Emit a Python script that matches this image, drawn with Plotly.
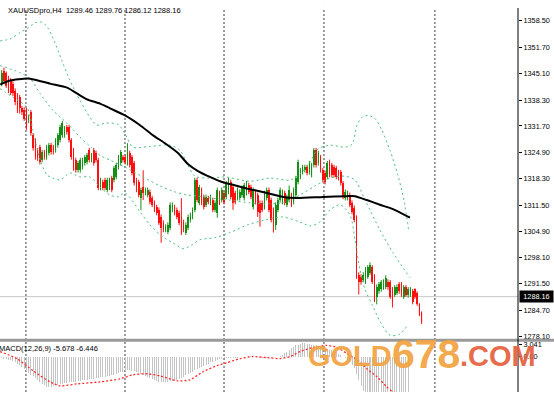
import plotly.graph_objects as go

# ---------------- data ----------------
open_ = [
1342.5,1345.8,1345.1,1343.8,1343.3,1342.5,1340.7,1339.5,1339.0,1336.2,
1335.9,1335.7,1333.1,1335.2,1329.3,1328.1,1325.5,1326.3,1323.0,1325.0,
1323.7,1324.8,1326.8,1326.3,1325.5,1326.8,1328.1,1329.3,1329.3,1331.4,
1331.4,1328.1,1325.5,1323.0,1320.4,1320.4,1321.2,1322.2,1322.5,1325.5,
1323.0,1325.5,1324.8,1323.0,1315.9,1317.4,1317.9,1315.4,1315.9,1318.4,
1317.9,1318.7,1321.2,1322.2,1323.7,1323.7,1322.2,1324.8,1323.7,1322.2,
1317.9,1317.4,1313.3,1316.1,1314.6,1314.1,1314.9,1313.3,1312.1,1311.0,
1310.3,1308.5,1307.0,1305.2,1304.7,1305.7,1310.3,1311.0,1310.3,1309.5,
1308.5,1307.2,1304.5,1305.7,1307.7,1308.5,1310.3,1317.9,1312.1,1315.4,
1313.6,1311.6,1313.3,1312.1,1312.8,1310.3,1309.5,1314.6,1312.8,1314.6,
1313.6,1314.9,1317.4,1316.1,1314.6,1313.3,1313.3,1314.1,1313.3,1314.6,
1316.6,1316.1,1311.0,1314.9,1314.1,1312.1,1312.1,1311.0,1313.3,1315.4,
1312.8,1310.3,1306.5,1310.3,1312.8,1312.3,1314.6,1311.6,1312.8,1314.1,
1312.3,1314.1,1317.4,1318.7,1319.9,1320.4,1321.2,1319.9,1319.2,1321.7,
1325.5,1322.2,1323.7,1320.4,1319.7,1318.7,1322.5,1321.7,1321.2,1320.9,
1319.9,1319.9,1317.1,1313.3,1313.3,1314.1,1312.1,1310.8,1308.3,1293.8,
1293.3,1292.5,1292.0,1293.3,1294.3,1295.6,1293.3,1288.2,1289.5,1290.0,
1290.5,1290.7,1292.0,1291.8,1290.0,1288.7,1289.2,1291.3,1291.3,1288.2,
1290.5,1288.5,1288.7,1289.5,1290.0,1289.2,1286.2,1284.1]

close = [
1345.3,1343.3,1342.0,1340.7,1340.2,1340.0,1337.7,1335.7,1336.2,1335.2,
1333.6,1331.4,1333.9,1329.8,1326.0,1323.7,1323.5,1322.5,1325.0,1323.7,
1326.3,1326.8,1325.0,1325.0,1328.1,1329.3,1331.4,1332.4,1331.1,1330.1,
1328.1,1323.7,1320.9,1320.4,1322.2,1323.0,1323.0,1323.7,1324.2,1323.0,
1324.2,1322.2,1323.0,1315.9,1317.9,1315.9,1315.9,1317.9,1317.9,1315.4,
1320.9,1321.7,1323.7,1325.0,1323.0,1322.5,1324.8,1321.7,1319.7,1317.1,
1315.4,1314.1,1315.4,1314.6,1315.4,1315.4,1312.3,1311.6,1310.3,1309.5,
1307.0,1305.7,1305.2,1306.0,1306.5,1311.6,1311.6,1309.5,1308.5,1307.0,
1304.5,1305.2,1306.5,1308.5,1309.0,1310.3,1317.9,1312.8,1316.1,1312.1,
1311.0,1313.6,1312.3,1313.6,1310.3,1312.1,1315.4,1312.1,1315.4,1312.3,
1317.1,1317.9,1313.6,1312.1,1312.3,1315.4,1314.9,1315.9,1316.6,1317.1,
1314.9,1313.6,1315.4,1312.3,1309.8,1309.5,1310.3,1314.6,1315.4,1310.3,
1307.7,1307.0,1311.6,1312.8,1315.4,1314.9,1312.1,1313.6,1315.4,1311.6,
1315.4,1318.4,1322.5,1320.4,1321.2,1321.2,1319.7,1322.2,1321.7,1325.5,
1321.7,1324.8,1320.4,1317.9,1317.4,1322.2,1319.2,1319.2,1319.2,1318.7,
1318.4,1317.1,1313.6,1314.9,1314.6,1311.6,1309.8,1307.7,1293.3,1292.0,
1291.8,1293.8,1295.1,1295.6,1296.3,1292.0,1287.4,1290.7,1291.3,1291.8,
1292.0,1293.0,1290.5,1288.2,1286.9,1290.5,1290.7,1289.5,1288.7,1290.5,
1288.7,1290.0,1290.0,1286.9,1288.0,1286.2,1283.6,1281.6]

high = [
1346.0,1346.6,1345.6,1344.5,1343.9,1343.1,1341.3,1340.1,1339.6,1336.8,
1336.5,1336.3,1334.6,1335.8,1329.9,1328.6,1326.1,1326.9,1325.6,1325.6,
1326.9,1327.4,1327.4,1326.9,1328.6,1329.9,1332.0,1333.0,1331.7,1332.0,
1332.0,1328.6,1326.1,1323.6,1322.8,1323.6,1323.6,1324.3,1324.8,1326.1,
1324.8,1326.1,1325.4,1323.6,1318.5,1318.0,1318.5,1318.5,1318.5,1319.0,
1321.5,1322.3,1324.3,1325.6,1324.3,1324.3,1327.3,1325.4,1324.3,1322.8,
1318.5,1318.0,1316.0,1320.4,1316.0,1316.0,1315.5,1313.9,1312.7,1311.6,
1310.9,1309.1,1307.6,1306.6,1307.1,1312.2,1312.2,1311.6,1310.9,1310.1,
1313.3,1307.8,1307.1,1309.1,1309.6,1310.9,1318.5,1318.5,1316.7,1316.0,
1314.2,1314.2,1313.9,1314.2,1313.4,1312.7,1316.0,1315.2,1316.0,1315.2,
1317.7,1318.5,1318.0,1316.7,1315.2,1316.0,1315.5,1316.5,1317.2,1317.7,
1317.2,1316.7,1316.0,1315.5,1314.7,1312.7,1312.7,1315.2,1316.0,1316.0,
1313.4,1310.9,1312.2,1313.4,1316.0,1315.5,1315.2,1314.2,1316.5,1314.7,
1316.0,1319.0,1323.1,1321.0,1321.8,1321.8,1321.8,1322.8,1322.3,1326.1,
1326.1,1325.4,1324.3,1321.0,1320.3,1322.8,1323.1,1322.3,1321.8,1321.5,
1320.5,1320.5,1317.7,1315.5,1315.2,1314.7,1312.7,1311.4,1308.9,1294.4,
1293.9,1294.4,1295.7,1296.2,1296.9,1296.2,1293.9,1291.3,1291.9,1292.4,
1292.6,1293.6,1292.6,1292.4,1290.6,1291.1,1291.3,1291.9,1291.9,1291.1,
1291.1,1290.6,1290.6,1290.1,1290.3,1289.5,1286.5,1284.4]

low = [
1341.8,1342.7,1341.4,1340.1,1339.6,1339.3,1337.0,1335.0,1334.9,1334.5,
1333.0,1330.7,1332.4,1329.2,1325.4,1323.1,1322.8,1321.9,1322.4,1323.1,
1323.1,1324.2,1324.4,1324.4,1324.9,1326.2,1327.5,1328.7,1328.7,1329.5,
1327.5,1323.1,1320.3,1319.8,1319.8,1319.8,1320.6,1321.6,1321.9,1322.4,
1322.4,1321.6,1322.4,1315.3,1315.3,1315.3,1315.3,1314.8,1315.3,1314.8,
1317.3,1318.1,1320.6,1321.6,1322.4,1321.9,1321.6,1321.1,1319.1,1316.5,
1314.8,1313.5,1310.3,1312.8,1314.0,1313.5,1311.7,1311.0,1309.7,1308.9,
1306.4,1301.9,1304.6,1304.6,1304.1,1305.1,1309.7,1308.9,1307.9,1306.4,
1303.9,1304.6,1303.9,1305.1,1307.1,1307.9,1309.7,1312.2,1311.5,1311.5,
1310.4,1311.0,1311.7,1311.5,1309.7,1309.7,1308.3,1311.5,1312.2,1311.7,
1313.0,1314.3,1313.0,1310.3,1311.7,1312.7,1312.7,1313.5,1312.7,1314.0,
1314.3,1313.0,1310.4,1311.7,1308.5,1306.0,1309.7,1310.4,1312.7,1309.7,
1307.1,1304.5,1305.2,1309.7,1312.2,1311.7,1311.5,1311.0,1312.2,1311.0,
1311.7,1313.5,1316.8,1318.1,1319.3,1319.8,1319.1,1319.3,1318.6,1321.1,
1321.1,1321.6,1319.8,1317.3,1316.8,1318.1,1318.6,1318.6,1318.6,1318.1,
1317.8,1316.5,1313.0,1312.7,1312.7,1311.0,1309.2,1307.1,1292.7,1288.7,
1291.2,1291.9,1291.4,1292.7,1293.7,1291.4,1286.8,1286.2,1288.9,1289.4,
1289.9,1290.1,1289.9,1287.6,1285.4,1288.1,1288.6,1288.9,1288.1,1287.6,
1288.1,1287.9,1288.1,1286.2,1287.6,1285.8,1283.2,1281.2]

# moving average (black line), at bar positions
ma_x = [-0.7, 3.7, 11.3, 14.8, 21.5, 29.1, 33.5, 38.0, 43.8, 48.2, 54.9, 61.6, 67.4, 72.7,
        78.5, 82.9, 87.4, 92.7, 97.2, 108.3, 118.1, 125.2, 131.5, 143.1, 153.7, 157.3,
        162.6, 168.4, 174.2, 181.8]
ma_v = [1342.3, 1343.3, 1343.8, 1343.5, 1342.5, 1341.5, 1340.0, 1338.5, 1337.4, 1336.2,
        1334.4, 1331.9, 1329.3, 1327.3, 1324.8, 1322.0, 1320.2, 1318.7, 1317.6, 1315.9,
        1314.6, 1313.6, 1313.3, 1313.6, 1313.8, 1313.8, 1312.8, 1311.6, 1310.5, 1308.3]

# Bollinger bands (dotted green)
bb_up_x = [-0.7, 3.7, 8.1, 11.7, 14.8, 17.9, 20.6, 23.7, 26.8, 30.4, 34.9, 39.3, 42.4, 46.0,
           51.8, 55.3, 58.4, 66.0, 74.9, 79.4, 82.9, 86.0, 92.7, 99.4, 110.5, 119.5, 128.4,
           132.8, 137.3, 140.8, 146.2, 152.8, 156.0, 158.2, 160.4, 163.1, 166.2, 169.3,
           172.9, 176.4, 179.1, 181.3]
bb_up_v = [1353.4, 1353.9, 1355.5, 1356.7, 1358.0, 1358.2, 1356.7, 1352.9, 1348.4, 1343.3,
           1338.2, 1333.9, 1331.9, 1332.4, 1332.1, 1329.3, 1326.3, 1326.5, 1326.8, 1325.5,
           1321.7, 1318.9, 1318.4, 1318.7, 1317.6, 1318.4, 1317.9, 1319.4, 1322.5, 1325.8,
           1326.8, 1326.3, 1327.0, 1331.9, 1333.9, 1334.4, 1333.6, 1330.6, 1325.5, 1319.2,
           1312.8, 1304.7]
bb_mid_x = [-0.7, 8.1, 12.6, 17.1, 22.8, 29.1, 34.9, 39.3, 43.8, 48.2, 54.9, 62.9, 70.5,
            77.1, 82.5, 87.4, 93.6, 101.6, 110.5, 119.5, 126.1, 132.8, 139.5, 146.2, 152.8,
            157.3, 161.8, 168.4, 174.2, 181.8]
bb_mid_v = [1347.1, 1345.3, 1343.8, 1340.0, 1335.7, 1332.4, 1328.8, 1326.5, 1324.2, 1323.0,
            1321.2, 1318.7, 1316.4, 1314.9, 1314.1, 1313.8, 1313.3, 1312.8, 1312.1, 1311.8,
            1312.3, 1314.1, 1316.4, 1318.4, 1318.9, 1317.9, 1312.8, 1305.2, 1299.4, 1293.0]
bb_low_x = [-0.7, 5.0, 11.3, 13.9, 17.1, 20.2, 22.8, 26.0, 30.4, 34.9, 39.3, 43.8, 48.2,
            51.8, 54.9, 61.6, 66.0, 71.8, 76.2, 80.8, 84.7, 88.3, 95.0, 101.6, 109.6, 117.2,
            124.8, 132.8, 137.3, 141.7, 146.2, 150.6, 155.1, 157.3, 159.5, 161.8, 164.9,
            168.4, 172.9, 177.3, 180.9]
bb_low_v = [1341.2, 1339.0, 1336.4, 1330.6, 1323.0, 1319.2, 1318.4, 1317.9, 1319.7, 1318.7,
            1318.7, 1316.1, 1314.1, 1313.6, 1314.6, 1309.8, 1306.5, 1303.4, 1301.9, 1300.4,
            1301.4, 1302.7, 1303.2, 1304.5, 1306.5, 1307.7, 1308.5, 1307.2, 1306.2, 1307.2,
            1310.3, 1311.6, 1309.0, 1302.7, 1295.1, 1290.0, 1286.2, 1281.9, 1278.3, 1278.6,
            1281.1]

# MACD histogram (one value per bar, indicator stops before the last bars)
macd_hist = [
-0.3,-0.5,-0.6,-0.8,-1.0,-1.2,-1.5,-1.9,-2.3,-2.7,
-3.2,-3.7,-4.2,-4.7,-5.1,-5.6,-6.1,-6.6,-7.1,-7.5,
-7.8,-7.9,-7.9,-7.7,-7.5,-7.3,-7.1,-7.0,-6.9,-6.8,
-6.7,-6.6,-6.6,-6.5,-6.4,-6.3,-6.2,-6.1,-6.0,-5.9,
-5.8,-5.7,-5.6,-5.5,-5.4,-5.3,-5.2,-5.1,-5.0,-4.9,
-4.7,-4.5,-4.3,-4.1,-3.9,-3.7,-3.6,-3.6,-3.7,-3.8,
-3.9,-4.1,-4.4,-4.7,-5.0,-5.3,-5.6,-5.9,-6.2,-6.4,
-6.5,-6.6,-6.6,-6.6,-6.5,-6.4,-6.3,-6.2,-6.0,-5.8,
-5.5,-5.2,-4.9,-4.5,-4.2,-3.9,-3.6,-3.3,-3.0,-2.7,
-2.4,-2.1,-1.8,-1.5,-1.3,-1.1,-0.9,-0.7,-0.5,-0.4,
-0.3,-0.3,-0.4,-0.4,-0.3,-0.3,-0.2,-0.2,-0.1,0.0,
0.1,0.1,0.0,-0.1,-0.2,-0.3,-0.4,-0.4,-0.4,-0.3,
-0.3,-0.2,-0.1,0.0,0.2,0.5,0.9,1.3,1.8,2.2,
2.6,2.9,3.1,3.3,3.4,3.4,3.3,3.2,3.1,3.0,
2.9,2.8,2.6,2.4,2.2,2.0,1.8,1.6,1.4,1.1,
0.8,0.4,0.0,-0.4,-0.9,-1.5,-2.2,-3.0,-4.5,-6.2,
-7.6,-8.9,-10.0,-11.0,-11.9,-12.6,-13.2,-13.7,-14.2,-14.6,
-14.9,-15.2,-15.4,-15.6,-15.7,-15.8,-15.9,-16.0,-16.0,-16.1,
-16.1,-16.2]

# MACD signal (red dotted)
sig_x = [-0.7, 6.8, 13.9, 21.5, 26.0, 33.5, 43.8, 52.7, 58.5, 64.7, 70.5, 78.1, 83.8, 89.6,
         95.9, 100.3, 106.1, 111.9, 118.1, 123.9, 128.4, 132.8, 138.6, 144.8, 149.3, 153.7,
         158.2, 162.6, 167.1, 171.5, 174.2, 181.8]
sig_v = [1.31, -0.52, -3.67, -6.56, -7.61, -7.09, -6.56, -5.77, -4.72, -4.46, -4.99, -6.30,
         -6.04, -3.94, -2.36, -1.57, -0.52, 0.0, -0.26, -0.52, 0.0, 1.31, 2.36, 2.89, 2.36,
         0.79, -0.79, -3.15, -5.25, -7.87, -9.19, -12.3]

price_ticks = [1358.50, 1351.70, 1345.10, 1338.30, 1331.70, 1324.90, 1318.30, 1311.50,
               1304.90, 1298.10, 1291.50, 1284.70, 1278.10]
macd_ticks = [3.041, 0.0]
macd_ticktext = ["3.041", "0.00"]
separator_bars = [10.8, 54.9, 99.0, 143.5, 192.9]
last_price = 1288.16
header_text = "XAUUSDpro,H4  1289.46 1289.76 1286.12 1288.16"
macd_text = "MACD(12,26,9) -5.678 -6.446"

# ---------------- figure ----------------
W, H = 554, 393
n = len(close)
assert len(open_) == n and len(high) == n and len(low) == n, (len(open_), len(high), len(low), n)
bars = list(range(n))

UP, DN = "#168f16", "#ff1010"
BB = "#4cbf7e"
FONT = "Liberation Sans, Arial, sans-serif"

fig = go.Figure()

# wicks
for col, cond in ((UP, lambda o, c: c >= o), (DN, lambda o, c: c < o)):
    wx, wy = [], []
    for i in bars:
        if cond(open_[i], close[i]):
            wx += [i, i, None]
            wy += [low[i], high[i], None]
    fig.add_trace(go.Scatter(x=wx, y=wy, mode="lines", line=dict(color=col, width=1),
                             hoverinfo="skip", xaxis="x", yaxis="y"))

# bodies
for col, cond in ((UP, lambda o, c: c >= o), (DN, lambda o, c: c < o)):
    idx = [i for i in bars if cond(open_[i], close[i])]
    fig.add_trace(go.Bar(x=idx,
                         base=[min(open_[i], close[i]) for i in idx],
                         y=[max(abs(close[i] - open_[i]), 0.3) for i in idx],
                         width=0.75, marker=dict(color=col, line=dict(width=0)),
                         xaxis="x", yaxis="y", hoverinfo="skip"))

# Bollinger bands
for bx, bv in ((bb_up_x, bb_up_v), (bb_mid_x, bb_mid_v), (bb_low_x, bb_low_v)):
    fig.add_trace(go.Scatter(x=bx, y=bv, mode="lines",
                             line=dict(color=BB, width=1, dash="2px,3px", shape="spline", smoothing=0.8),
                             xaxis="x", yaxis="y", hoverinfo="skip"))

# moving average
fig.add_trace(go.Scatter(x=ma_x, y=ma_v, mode="lines",
                         line=dict(color="black", width=2, shape="spline", smoothing=0.6),
                         xaxis="x", yaxis="y", hoverinfo="skip"))

# MACD
fig.add_trace(go.Bar(x=list(range(len(macd_hist))), y=macd_hist, width=0.45,
                     marker=dict(color="#c4c4c4", line=dict(width=0)),
                     xaxis="x2", yaxis="y2", hoverinfo="skip"))
fig.add_trace(go.Scatter(x=sig_x, y=sig_v, mode="lines",
                         line=dict(color="#ff2a2a", width=1.3, dash="2px,2px", shape="spline", smoothing=0.6),
                         xaxis="x2", yaxis="y2", hoverinfo="skip"))

# axis geometry (main panel: px 0..340, MACD panel: px 342..393)
px_per_bar = 2.2457
x_lo = -1.7 / px_per_bar
x_hi = x_lo + 518 / px_per_bar
main_dom = [(H - 340) / H, 1.0]
macd_dom = [0.0, (H - 342) / H]

axis_common = dict(showgrid=False, zeroline=False, showline=False)
fig.update_layout(
    width=W, height=H, margin=dict(l=0, r=36, t=0, b=0),
    paper_bgcolor="white", plot_bgcolor="white", showlegend=False,
    barmode="overlay", bargap=0, hovermode=False,
    xaxis=dict(domain=[0, 1], range=[x_lo, x_hi], anchor="y", showticklabels=False, ticks="", **axis_common),
    xaxis2=dict(domain=[0, 1], range=[x_lo, x_hi], anchor="y2", showticklabels=False, ticks="", **axis_common),
    yaxis=dict(domain=main_dom, range=[1277.29, 1363.58], side="right", anchor="x",
               tickvals=price_ticks, ticktext=["%.2f" % v for v in price_ticks],
               ticks="outside", ticklen=3, tickcolor="black",
               tickfont=dict(family=FONT, size=7.3, color="black"), **axis_common),
    yaxis2=dict(domain=macd_dom, range=[-9.19, 3.98], side="right", anchor="x2",
                tickvals=macd_ticks, ticktext=macd_ticktext,
                ticks="outside", ticklen=3, tickcolor="black",
                tickfont=dict(family=FONT, size=7.3, color="black"), **axis_common),
)

shapes = []
# current price line
shapes.append(dict(type="line", xref="paper", yref="y", x0=0, x1=1, y0=last_price, y1=last_price,
                   line=dict(color="#c6c6c6", width=1), layer="below"))
# period separators
for s in separator_bars:
    shapes.append(dict(type="line", xref="x", yref="paper", x0=s, x1=s, y0=0, y1=(H - 7) / H,
                       line=dict(color="#3a3a3a", width=1, dash="2px,2px"), layer="below"))
# panel separator
shapes.append(dict(type="rect", xref="paper", yref="paper", x0=0, x1=W / 518.0,
                   y0=(H - 342.5) / H, y1=(H - 339.5) / H,
                   fillcolor="#9a9a9a", line=dict(width=0), layer="above"))
# right axis line
shapes.append(dict(type="line", xref="paper", yref="paper", x0=1, x1=1, y0=0, y1=(H - 7) / H,
                   line=dict(color="black", width=1), layer="above"))
fig.update_layout(shapes=shapes)

ann = []
ann.append(dict(text=header_text, xref="paper", yref="paper", x=6 / 518.0, y=(H - 10) / H,
                xanchor="left", yanchor="middle", showarrow=False,
                font=dict(family=FONT, size=7.5, color="black")))
ann.append(dict(text=macd_text, xref="paper", yref="paper", x=-3 / 518.0, y=(H - 349) / H,
                xanchor="left", yanchor="middle", showarrow=False,
                font=dict(family=FONT, size=7.5, color="black")))
# last price label box
ann.append(dict(text="%.2f" % last_price, xref="paper", yref="y", x=519 / 518.0, y=last_price,
                xanchor="left", yanchor="middle", showarrow=False,
                bgcolor="black", borderpad=0, width=33, height=11, align="center",
                font=dict(family=FONT, size=7.3, color="white")))
# watermark
ann.append(dict(text="<b>GOLD</b>", xref="paper", yref="paper", x=306 / 518.0, y=(H - 357) / H,
                xanchor="left", yanchor="middle", showarrow=False, opacity=0.92,
                font=dict(family=FONT, size=29, color="#f2a23e")))
ann.append(dict(text="<b>678</b>", xref="paper", yref="paper", x=390 / 518.0, y=(H - 354.5) / H,
                xanchor="left", yanchor="middle", showarrow=False, opacity=0.92,
                font=dict(family=FONT, size=41, color="#f2a23e")))
ann.append(dict(text="<b>.COM</b>", xref="paper", yref="paper", x=458 / 518.0, y=(H - 357) / H,
                xanchor="left", yanchor="middle", showarrow=False, opacity=0.92,
                font=dict(family=FONT, size=29, color="#e5603c")))
fig.update_layout(annotations=ann)

fig.write_html("out.html",
               config={"displayModeBar": False, "staticPlot": True},
               post_script="document.body.style.margin='0';document.body.style.padding='0';"
                           "document.body.style.overflow='hidden';")
